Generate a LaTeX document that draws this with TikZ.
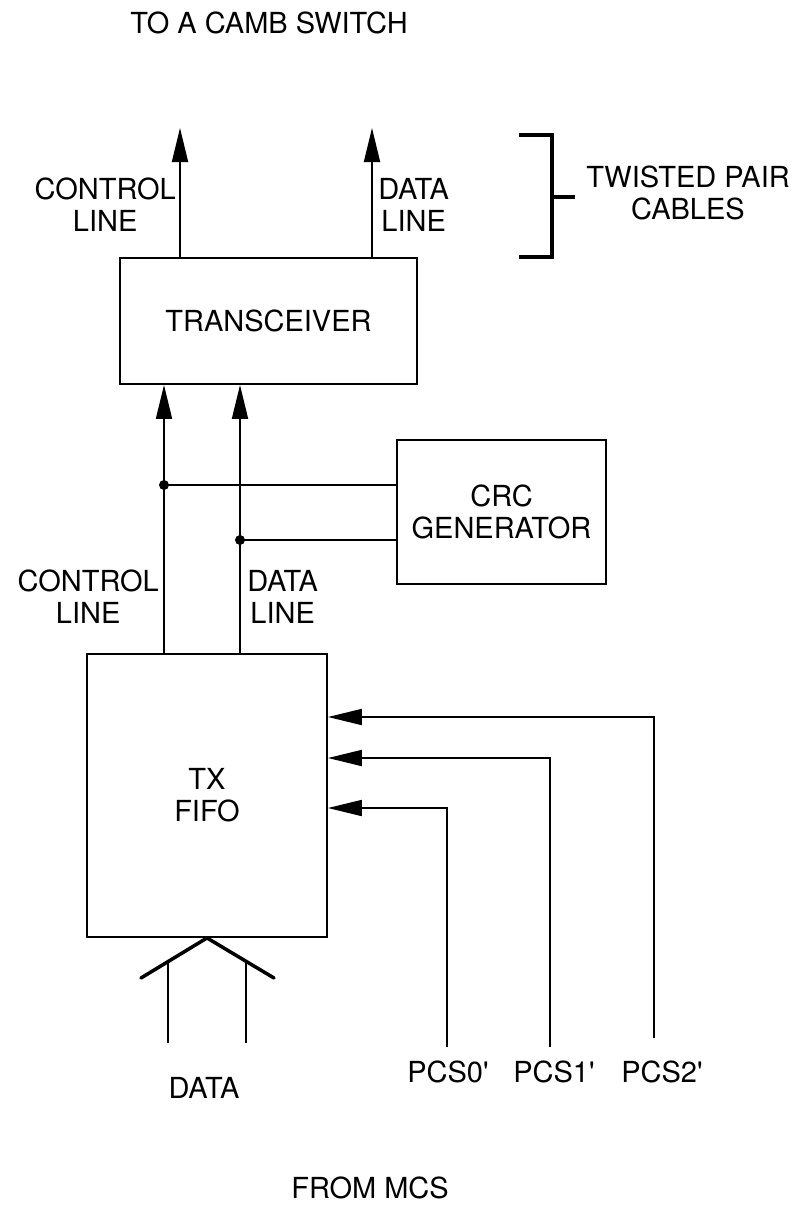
\documentclass[tikz,border=0pt]{standalone}
\usepackage{fontspec}
\setmainfont{TeX Gyre Heros}
\usetikzlibrary{arrows.meta,positioning}

\begin{document}
\begin{tikzpicture}[
  x=0.02cm, y=-0.02cm,
  every node/.style={font=\fontsize{16.5}{18.2}\selectfont, align=center, inner sep=0pt},
  blk/.style={rectangle, draw, line width=1.1pt},
  arr/.style={-{Triangle[length=0.68cm, width=0.32cm]}, line width=1.1pt},
  wire/.style={line width=1.1pt},
  bus/.style={line width=2pt, line cap=round},
  brk/.style={line width=2.2pt},
  junc/.style={circle, fill, minimum size=0.2cm}
]
\useasboundingbox (0,0) rectangle (799,1205);

% blocks
\node[blk, minimum width=5.94cm, minimum height=2.52cm] (trx)  at (268.5,321) {TRANSCEIVER};
\node[blk, minimum width=4.18cm, minimum height=2.88cm] (crc)  at (501.5,512) {CRC\\GENERATOR};
\node[blk, minimum width=4.8cm,  minimum height=5.66cm] (fifo) at (207,795.5) {TX\\FIFO};

% texts
\node (title) at (269,23) {TO A CAMB SWITCH};
\node[anchor=east] (ctlup)  at (176,205) {CONTROL\\LINE};
\node[anchor=west] (datup)  at (378,205) {DATA\\LINE};
\node[anchor=east] (ctldn)  at (159,597) {CONTROL\\LINE};
\node[anchor=west] (datdn)  at (247,597) {DATA\\LINE};
\node (twisted) at (688,193) {TWISTED PAIR\\CABLES};
\node (pcs0) at (448,1072) {PCS0\textquotesingle};
\node (pcs1) at (554,1072) {PCS1\textquotesingle};
\node (pcs2) at (662,1072) {PCS2\textquotesingle};
\node (data) at (204,1088) {DATA};
\node (mcs)  at (370,1188) {FROM MCS};

% out to the switch
\coordinate (ctlout) at (180,128);
\coordinate (datout) at (372,128);
\draw[arr] (trx.north -| ctlout) -- (ctlout);
\draw[arr] (trx.north -| datout) -- (datout);

% bracket
\coordinate (brkmid) at (552,197);
\draw[brk] (519,135) -- (552,135) -- (552,257) -- (519,257);
\draw[brk] (brkmid) -- (575,197);

% fifo -> transceiver, tapped by crc
\node[junc] (jc) at (164,485) {};
\node[junc] (jd) at (240,540) {};
\draw[arr] (fifo.north -| jc) -- (trx.south -| jc);
\draw[arr] (fifo.north -| jd) -- (trx.south -| jd);
\draw[wire] (jc.center) -- (crc.west |- jc);
\draw[wire] (jd.center) -- (crc.west |- jd);

% chip selects
\coordinate (p0) at (447,1047);
\coordinate (p1) at (550,1047);
\coordinate (p2) at (654,1038);
\draw[arr] (p0) |- (fifo.east |- 0,808);
\draw[arr] (p1) |- (fifo.east |- 0,758);
\draw[arr] (p2) |- (fifo.east |- 0,717);

% data bus
\draw[bus] (141,978) -- (fifo.south) -- (274,978);
\draw[wire] (168,961) -- (168,1043);
\draw[wire] (246,961) -- (246,1043);

\end{tikzpicture}
\end{document}
